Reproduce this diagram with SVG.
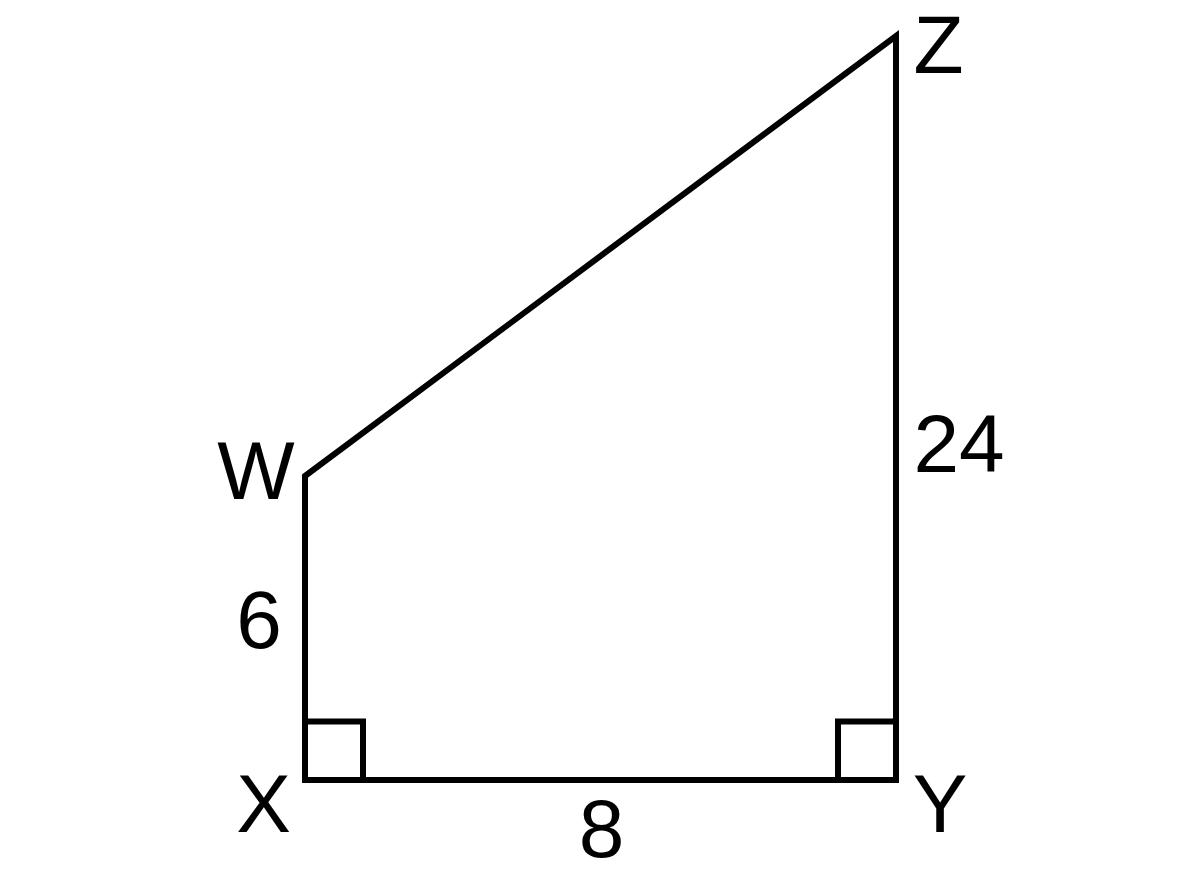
<svg xmlns="http://www.w3.org/2000/svg" width="1200" height="896" viewBox="0 0 1200 896">
<style>
.ln{fill:none;stroke:#000;stroke-width:6;stroke-linejoin:miter;stroke-linecap:butt}
.lb{font-family:"Liberation Sans",Arial,sans-serif;font-size:82px;fill:#000;text-anchor:middle}
</style>
<rect width="1200" height="896" fill="#fff"/>
<g id="connectors">
<polygon class="ln" points="305,476 896,36 896,780 305,780"/>
<polyline class="ln" points="305,721.5 363,721.5 363,780"/>
<polyline class="ln" points="896,721.5 838,721.5 838,780"/>
</g>
<g id="W"><text class="lb" x="256" y="499">W</text></g>
<g id="Z"><text class="lb" x="938.5" y="73">Z</text></g>
<g id="X"><text class="lb" x="263.5" y="832">X</text></g>
<g id="Y"><text class="lb" x="940" y="832">Y</text></g>
<g id="l24"><text class="lb" x="959" y="472">24</text></g>
<g id="l6"><text class="lb" x="259" y="648">6</text></g>
<g id="l8"><text class="lb" x="601.5" y="857">8</text></g>
</svg>
